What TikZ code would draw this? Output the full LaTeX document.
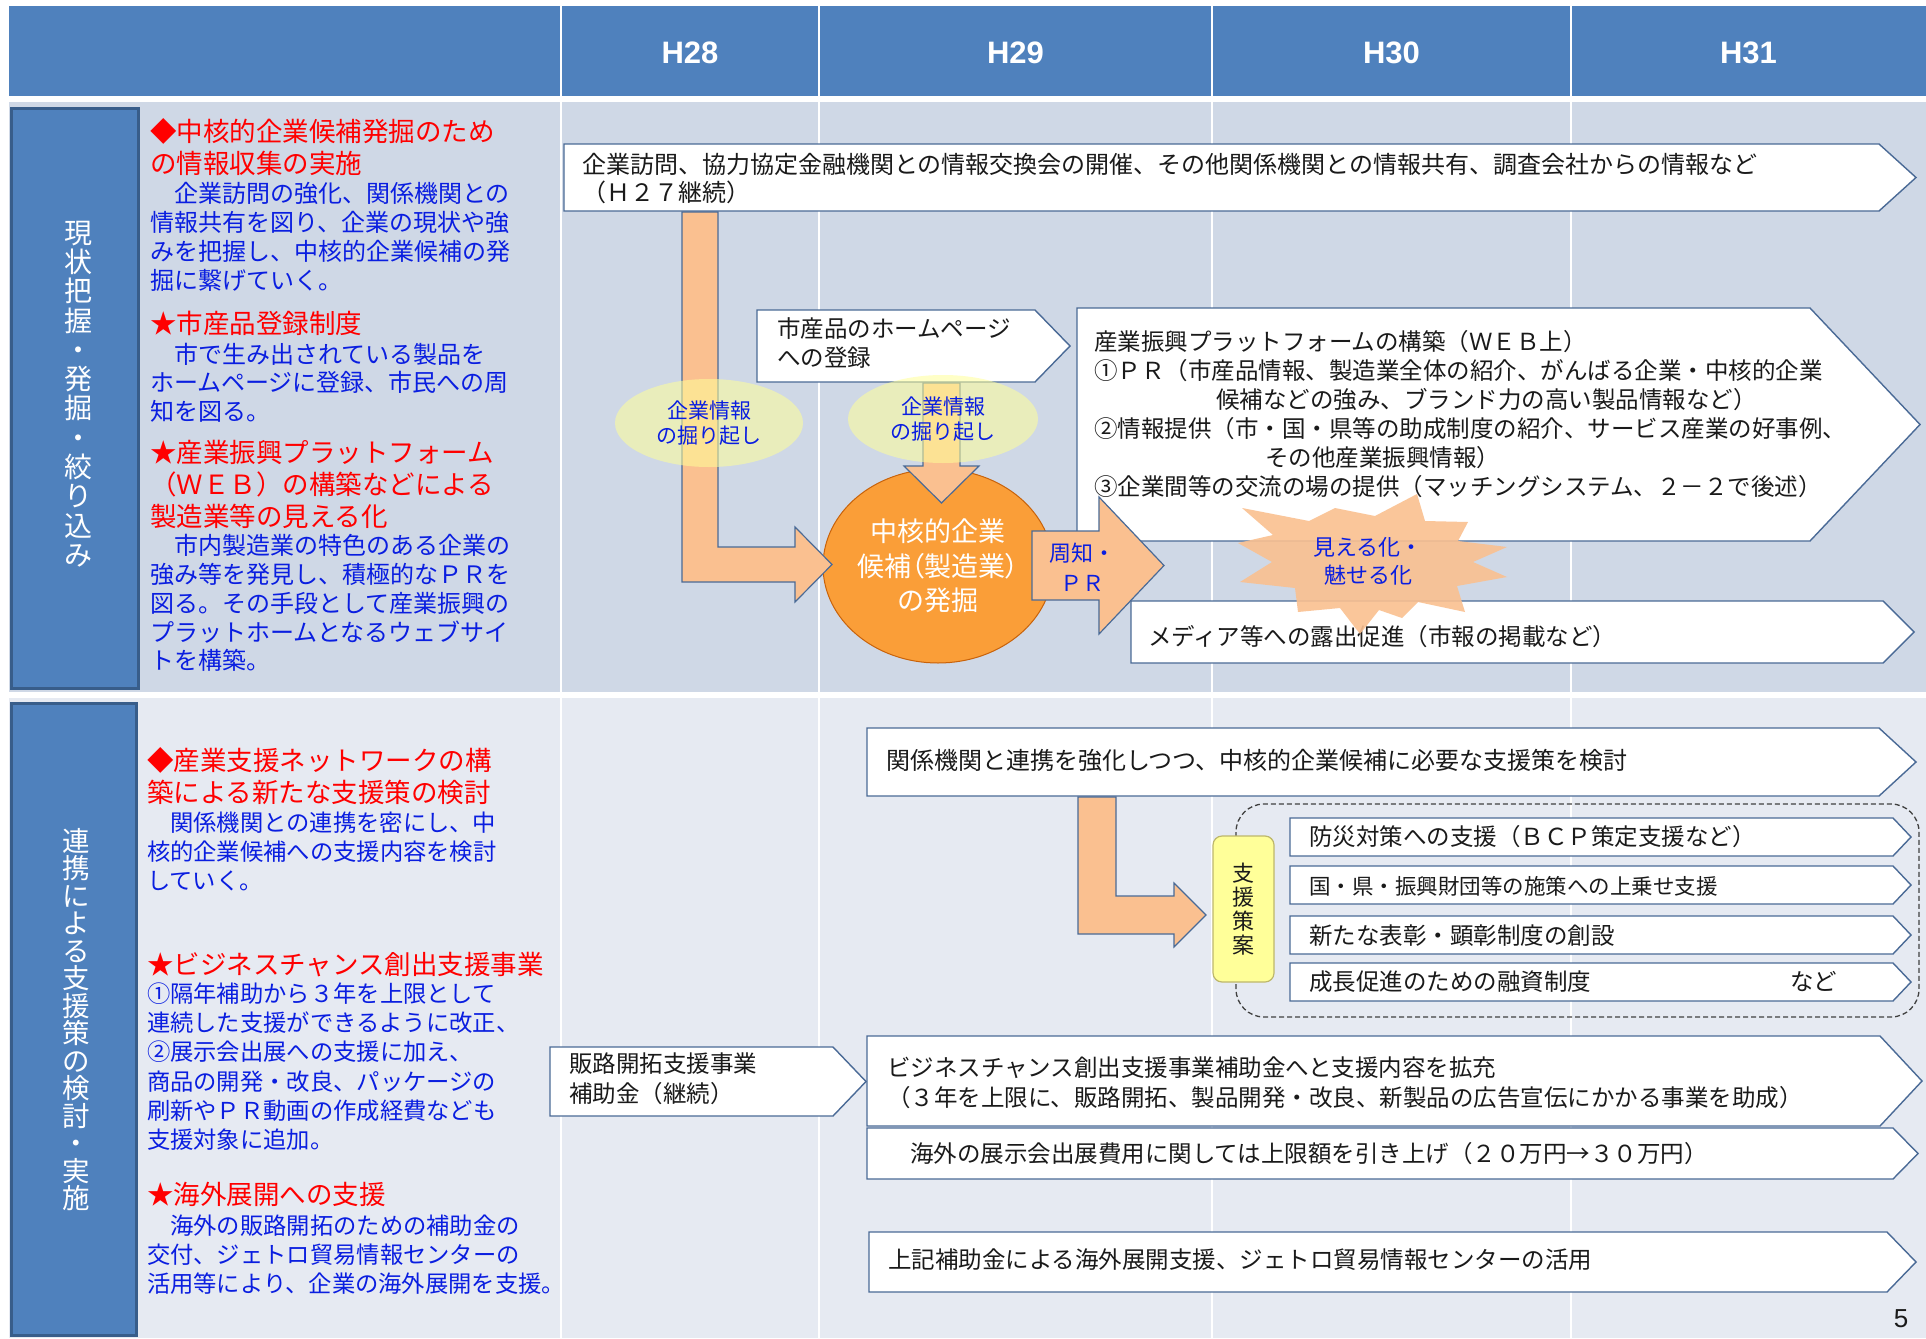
\documentclass[tikz,border=0pt]{standalone}
\usepackage{fontspec}
\setmainfont{Noto Sans CJK JP}
\newfontfamily\latinfont{Liberation Sans}
\usetikzlibrary{shapes.geometric}
\definecolor{hdr}{HTML}{4F81BD}
\definecolor{bgA}{HTML}{CFD8E6}
\definecolor{bgB}{HTML}{E6EAF2}
\definecolor{lblborder}{HTML}{385D8A}
\definecolor{boxline}{HTML}{4A6A96}
\definecolor{peach}{HTML}{FAC090}
\definecolor{tblue}{HTML}{0A1EE0}
\definecolor{tred}{HTML}{FF0000}
\definecolor{tdark}{HTML}{1A1A1A}
\definecolor{ylw}{HTML}{FFFF99}
\definecolor{ylwline}{HTML}{BDB76B}
\definecolor{orA}{HTML}{FA9E38}
\definecolor{orB}{HTML}{EC7E18}
\definecolor{orC}{HTML}{C8620A}
\pgfdeclareradialshading{orb}{\pgfpoint{0bp}{0bp}}{color(0bp)=(orA); color(28bp)=(orA); color(45bp)=(orB); color(50bp)=(orC)}
\newcommand\pentbox[6]{\draw[pshape] (#2,#3) -- (#4,#3) -- (#6,{(#3+#5)/2}) -- (#4,#5) -- (#2,#5) -- cycle; \coordinate (#1) at (#2,#5);}
\tikzset{
 every node/.style={inner sep=0pt, outer sep=0pt},
 redh/.style={anchor=west, align=left, text=tred, font=\fontsize{26.5}{32}\selectfont},
 bluet/.style={anchor=west, align=left, text=tblue, font=\fontsize{24}{28.8}\selectfont},
 bluetB/.style={anchor=west, align=left, text=tblue, font=\fontsize{23.3}{29.2}\selectfont},
 btxt/.style={anchor=west, align=left, text=tdark, font=\fontsize{23.5}{29}\selectfont},
 vlabel/.style={align=center, text=white},
 lblbox/.style={fill=hdr, draw=lblborder, line width=3pt},
 pshape/.style={draw=boxline, line width=1.4pt, fill=white},
 fatarrow/.style={draw=boxline, line width=1.2pt, fill=peach},
 dig/.style={ellipse, fill=ylw, fill opacity=0.55, text opacity=1, text=tblue, align=center, font=\fontsize{21}{25}\selectfont},
 hyr/.style={text=white, font=\latinfont\bfseries\fontsize{31}{36}\selectfont},
}
\begin{document}
\begin{tikzpicture}[x=1pt,y=-1pt]
\useasboundingbox (0,0) rectangle (1926,1338);
\fill[white] (0,0) rectangle (1926,1338);
% backgrounds
\fill[hdr] (9,6) rectangle (1926,96);
\fill[bgA] (9,102) rectangle (1926,692);
\fill[bgB] (9,698) rectangle (1926,1338);
\foreach \xx in {561,819,1212,1571} \draw[white, line width=2pt] (\xx,6) -- (\xx,1338);
% header
\node[hyr] (h28) at (690,53) {H28};
\node[hyr] (h29) at (1015.5,53) {H29};
\node[hyr] (h30) at (1391.5,53) {H30};
\node[hyr] (h31) at (1748.5,53) {H31};
% row labels
\node[lblbox, minimum width=127pt, minimum height=580pt] (lab1) at (74.5,398) {};
\node[vlabel, font=\fontsize{28}{29.3}\selectfont] (lab1t) at (78,394) {現\\状\\把\\握\\・\\発\\掘\\・\\絞\\り\\込\\み};
\node[lblbox, minimum width=125pt, minimum height=632pt] (lab2) at (73.5,1019) {};
\node[vlabel, font=\fontsize{27.5}{27.5}\selectfont] (lab2t) at (76,1019.5) {連\\携\\に\\よ\\る\\支\\援\\策\\の\\検\\討\\・\\実\\施};
% left texts section 1
\node[redh] (t1h) at (150,147) {◆中核的企業候補発掘のため\\の情報収集の実施};
\node[bluet] (t1b) at (150,237) {　企業訪問の強化、関係機関との\\情報共有を図り、企業の現状や強\\みを把握し、中核的企業候補の発\\掘に繋げていく。};
\node[redh] (t2h) at (150,323) {★市産品登録制度};
\node[bluet] (t2b) at (150,382.75) {　市で生み出されている製品を\\ホームページに登録、市民への周\\知を図る。};
\node[redh] (t3h) at (150,484) {★産業振興プラットフォーム\\（ＷＥＢ）の構築などによる\\製造業等の見える化};
\node[bluet] (t3b) at (150,603) {　市内製造業の特色のある企業の\\強み等を発見し、積極的なＰＲを\\図る。その手段として産業振興の\\プラットホームとなるウェブサイ\\トを構築。};
% left texts section 2
\node[redh] (s1h) at (147,776) {◆産業支援ネットワークの構\\築による新たな支援策の検討};
\node[bluetB] (s1b) at (147,851.5) {　関係機関との連携を密にし、中\\核的企業候補への支援内容を検討\\していく。};
\node[redh] (s2h) at (147,965) {★ビジネスチャンス創出支援事業};
\node[bluetB] (s2b) at (147,1066.5) {①隔年補助から３年を上限として\\連続した支援ができるように改正、\\②展示会出展への支援に加え、\\商品の開発・改良、パッケージの\\刷新やＰＲ動画の作成経費なども\\支援対象に追加。};
\node[redh] (s3h) at (147,1194) {★海外展開への支援};
\node[bluetB] (s3b) at (147,1254.5) {　海外の販路開拓のための補助金の\\交付、ジェトロ貿易情報センターの\\活用等により、企業の海外展開を支援。};
% ===== section 1 middle =====
\pentbox{topbox}{564}{144}{1879}{211}{1916}
\node[btxt, font=\fontsize{24}{28}\selectfont] (topt) at (582,179) {企業訪問、協力協定金融機関との情報交換会の開催、その他関係機関との情報共有、調査会社からの情報など\\（Ｈ２７継続）};
\pentbox{hpbox}{757}{310}{1035}{382}{1070}
\node[btxt, font=\fontsize{23.5}{29.5}\selectfont] (hpt) at (777,343) {市産品のホームページ\\への登録};
\pentbox{pfbox}{1077}{308}{1810}{541}{1920}
\node[btxt] (pft) at (1094,414.5) {産業振興プラットフォームの構築（ＷＥＢ上）\\①ＰＲ（市産品情報、製造業全体の紹介、がんばる企業・中核的企業\\\hspace*{122pt}候補などの強み、ブランド力の高い製品情報など）\\②情報提供（市・国・県等の助成制度の紹介、サービス産業の好事例、\\\hspace*{171pt}その他産業振興情報）\\③企業間等の交流の場の提供（マッチングシステム、２－２で後述）};
\pentbox{mdbox}{1131}{601}{1883}{663}{1914}
\node[btxt] (mdt) at (1148,637) {メディア等への露出促進（市報の掲載など）};
% core
\node[ellipse, shade, shading=orb, draw=orC, line width=1pt, minimum width=230pt, minimum height=194pt, align=center, text=white, font=\addfontfeature{RawFeature=+palt}\fontsize{27}{34.5}\selectfont] (core) at (938,566) {中核的企業\\候補（製造業）\\の発掘};
% fat arrows
\draw[fatarrow] (682,212) -- (718,212) -- (718,547) -- (795,547) -- (795,527) -- (832,564.5) -- (795,602) -- (795,582) -- (682,582) -- cycle;
\draw[fatarrow] (923,383) -- (960,383) -- (960,466) -- (979,466) -- (941.5,503) -- (904,466) -- (923,466) -- cycle;
\draw[fatarrow] (1032,531) -- (1099,531) -- (1099,497) -- (1164,565.5) -- (1099,634) -- (1099,600) -- (1032,600) -- cycle;
\node[align=center, text=tblue, font=\fontsize{22}{30}\selectfont] (pr) at (1082,567) {周知・\\ＰＲ};
% dig ellipses
\node[dig, minimum width=188pt, minimum height=88pt] (dig1) at (709,423) {企業情報\\の掘り起し};
\node[dig, minimum width=190pt, minimum height=88pt] (dig2) at (943,419) {企業情報\\の掘り起し};
% explosion
\fill[peach, fill opacity=0.9] (1242,508) -- (1309,521) -- (1335,508) -- (1375,516) -- (1417,494) -- (1425,521) -- (1468,522) -- (1458,541) -- (1507,547) -- (1473,562) -- (1507,577) -- (1457,586) -- (1465,612) -- (1418,602) -- (1402,618) -- (1379,610) -- (1360,634) -- (1340,608) -- (1298,612) -- (1295,588) -- (1240,582) -- (1272,562) -- (1238,543) -- (1273,535) -- cycle;
\node[align=center, text=tblue, font=\fontsize{22}{28}\selectfont] (vis) at (1368,561) {見える化・\\魅せる化};
% ===== section 2 middle =====
\pentbox{kbox}{867}{728}{1879}{796}{1916}
\node[btxt, font=\fontsize{24}{29}\selectfont] (kt) at (886,760) {関係機関と連携を強化しつつ、中核的企業候補に必要な支援策を検討};
\draw[fatarrow] (1078,797) -- (1116,797) -- (1116,896) -- (1174,896) -- (1174,883) -- (1206,915) -- (1174,947) -- (1174,934) -- (1078,934) -- cycle;
\draw[draw=black!75, line width=1.3pt, dash pattern=on 5pt off 3pt, rounded corners=28pt] (1236,804) rectangle (1919,1017);
\pentbox{sb1}{1290}{818}{1893}{856}{1911}
\node[btxt] (sb1t) at (1309,837) {防災対策への支援（ＢＣＰ策定支援など）};
\pentbox{sb2}{1290}{866}{1893}{904}{1911}
\node[btxt, font=\fontsize{21.5}{26}\selectfont] (sb2t) at (1309,886) {国・県・振興財団等の施策への上乗せ支援};
\pentbox{sb3}{1290}{916}{1893}{954}{1911}
\node[btxt] (sb3t) at (1309,935.5) {新たな表彰・顕彰制度の創設};
\pentbox{sb4}{1290}{963}{1893}{1001}{1911}
\node[btxt] (sb4t) at (1309,981.5) {成長促進のための融資制度\hspace{199pt}など};
\node[fill=ylw, draw=ylwline, line width=1.2pt, rounded corners=9pt, minimum width=61pt, minimum height=146pt, align=center, text=tdark, font=\fontsize{22}{24}\selectfont] (plan) at (1243.5,909) {支\\援\\策\\案};
\pentbox{hrbox}{550}{1047}{833}{1116}{866}
\node[btxt, font=\fontsize{23.5}{30.5}\selectfont] (hrt) at (569,1078.5) {販路開拓支援事業\\補助金（継続）};
\pentbox{bcbox}{867}{1036}{1880}{1126}{1922}
\node[btxt, font=\fontsize{23.5}{30}\selectfont] (bct) at (887,1082.5) {ビジネスチャンス創出支援事業補助金へと支援内容を拡充\\（３年を上限に、販路開拓、製品開発・改良、新製品の広告宣伝にかかる事業を助成）};
\pentbox{exbox}{867}{1128}{1893}{1179}{1918}
\node[btxt] (ext) at (910,1154) {海外の展示会出展費用に関しては上限額を引き上げ（２０万円→３０万円）};
\pentbox{jtbox}{869}{1232}{1887}{1292}{1916}
\node[btxt] (jtt) at (888,1260) {上記補助金による海外展開支援、ジェトロ貿易情報センターの活用};
\node[text=tdark, font=\latinfont\fontsize{26}{30}\selectfont] (pg) at (1901,1319) {5};
\end{tikzpicture}
\end{document}
